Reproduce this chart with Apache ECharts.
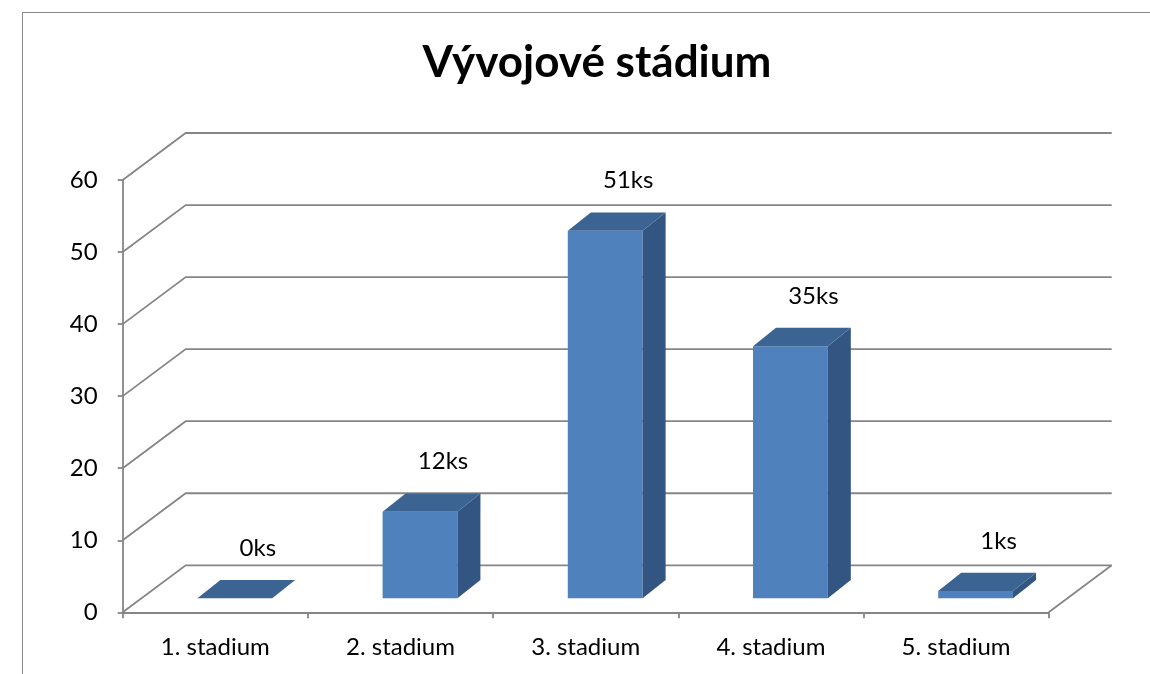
<!DOCTYPE html>
<html>
<head>
<meta charset="utf-8">
<script src="https://cdn.jsdelivr.net/npm/echarts@6/dist/echarts.min.js"></script>
<style>
  html, body { margin: 0; padding: 0; background: #fff; overflow: hidden; }
  #wrap { position: relative; width: 1150px; height: 674px; background: #fff; }
  #frame { position: absolute; left: 22px; top: 12px; width: 1200px; height: 700px;
           border-left: 1.5px solid #8a8a8a; border-top: 1.5px solid #8a8a8a; box-sizing: border-box; }
  #chart { position: absolute; left: 0; top: 0; width: 1150px; height: 674px; }
</style>
</head>
<body>
<div id="wrap">
  <div id="frame"></div>
  <div id="chart"></div>
</div>
<script>
// ---- data ----
const titleText = 'Vývojové stádium';
const categories = ['1. stadium', '2. stadium', '3. stadium', '4. stadium', '5. stadium'];
const values = [0, 12, 51, 35, 1];
const labelSuffix = 'ks';
const yTicks = [0, 10, 20, 30, 40, 50, 60];

// ---- style ----
const FONT = 'Lato, "Open Sans", sans-serif';
const GRID_COLOR = '#868686';
const WALL_DX = 63, WALL_DY = -47;      // depth of the 3D back wall
const BAR_OFF_X = 19.5, BAR_OFF_Y = -14; // front face offset of bars
const BAR_DX = 23, BAR_DY = -18.3;       // bar depth
const BAR_FRAC = 0.404;                  // bar width as fraction of band
const FRONT = '#4F81BD', TOP = '#3C6493', SIDE = '#335581';

const chart = echarts.init(document.getElementById('chart'), null, { renderer: 'canvas' });

function wallItem(params, api) {
  const cs = params.coordSys;
  const v = api.value(0);
  const y = api.coord([0, v])[1];
  const x0 = cs.x, x1 = cs.x + cs.width;
  const style = { stroke: GRID_COLOR, lineWidth: 1.8, fill: null };
  const children = [
    { type: 'polyline', shape: { points: [[x0, y], [x0 + WALL_DX, y + WALL_DY], [x1 + WALL_DX, y + WALL_DY]] }, style: style }
  ];
  if (v === 0) {
    children.push({ type: 'line', shape: { x1: x1, y1: y, x2: x1 + WALL_DX, y2: y + WALL_DY }, style: style });
  }
  return { type: 'group', children: children };
}

function barItem(params, api) {
  const idx = api.value(0);
  const val = api.value(1);
  const base = api.coord([idx, 0]);
  const topP = api.coord([idx, val]);
  const band = api.size([1, 0])[0];
  const w = band * BAR_FRAC;
  const xl = base[0] + BAR_OFF_X - w / 2;
  const xr = xl + w;
  const yb = base[1] + BAR_OFF_Y;
  const yt = topP[1] + BAR_OFF_Y;
  const children = [];
  if (yb - yt > 0.01) {
    children.push({ type: 'rect', shape: { x: xl, y: yt, width: w, height: yb - yt }, style: { fill: FRONT } });
    children.push({ type: 'polygon', shape: { points: [[xr, yt], [xr + BAR_DX, yt + BAR_DY], [xr + BAR_DX, yb + BAR_DY], [xr, yb]] }, style: { fill: SIDE } });
  }
  children.push({ type: 'polygon', shape: { points: [[xl, yt], [xr, yt], [xr + BAR_DX, yt + BAR_DY], [xl + BAR_DX, yt + BAR_DY]] }, style: { fill: TOP } });
  children.push({
    type: 'text',
    style: {
      x: (xl + xr) / 2 + BAR_DX, y: yt + BAR_DY - 32,
      text: val + labelSuffix, align: 'center', verticalAlign: 'middle',
      font: '24px ' + FONT, fill: '#000'
    }
  });
  return { type: 'group', children: children };
}

const option = {
  animation: false,
  backgroundColor: 'transparent',
  graphic: [{
    type: 'text', x: 597, y: 63,
    style: { text: titleText, font: 'bold 44px ' + FONT, fill: '#000', align: 'center', verticalAlign: 'middle' }
  }],
  grid: { left: 122.7, right: 101.3, top: 180, bottom: 61.7, containLabel: false },
  xAxis: {
    type: 'category', data: categories, boundaryGap: true,
    axisLine: { show: true, lineStyle: { color: GRID_COLOR, width: 1.8 } },
    axisTick: { show: true, inside: false, length: 6, alignWithLabel: false, lineStyle: { color: GRID_COLOR, width: 1.8 } },
    axisLabel: { color: '#000', fontFamily: FONT, fontSize: 24, margin: 23 },
    splitLine: { show: false }
  },
  yAxis: {
    type: 'value', min: 0, max: 60, interval: 10,
    axisLine: { show: true, lineStyle: { color: GRID_COLOR, width: 1.8 } },
    axisTick: { show: true, inside: false, length: 5, lineStyle: { color: GRID_COLOR, width: 1.8 } },
    axisLabel: { color: '#000', fontFamily: FONT, fontSize: 24, margin: 25 },
    splitLine: { show: false }
  },
  series: [
    { type: 'custom', name: 'wall', renderItem: wallItem, data: yTicks.map(v => [v]), encode: { y: 0 }, z: 1, silent: true, clip: false },
    { type: 'custom', name: 'bars', renderItem: barItem, data: values.map((v, i) => [i, v]), encode: { x: 0, y: 1 }, z: 3, clip: false }
  ]
};
chart.setOption(option);
</script>
</body>
</html>
